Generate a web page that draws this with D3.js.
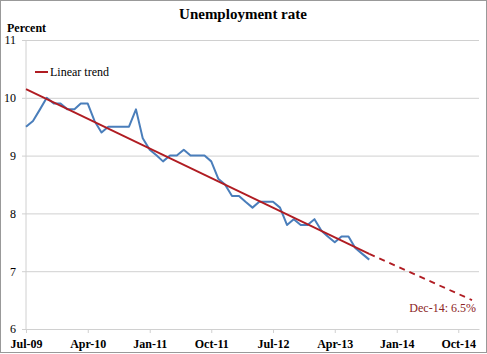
<!DOCTYPE html>
<html>
<head>
<meta charset="utf-8">
<script src="https://cdn.jsdelivr.net/npm/d3@7"></script>
<style>
  body { margin: 0; background: #fff; }
  svg { display: block; }
  svg text { font-family: "Liberation Serif", "Times New Roman", serif; }
</style>
</head>
<body>
<div id="chart"></div>
<script>
// monthly unemployment rate, Jul-09 .. Sep-13
const startMonth = "2009-07";
const rates = [
  9.5, 9.6, 9.8, 10.0, 9.9, 9.9,
  9.8, 9.8, 9.9, 9.9, 9.6, 9.4, 9.5, 9.5, 9.5, 9.5, 9.8, 9.3,
  9.1, 9.0, 8.9, 9.0, 9.0, 9.1, 9.0, 9.0, 9.0, 8.9, 8.6, 8.5,
  8.3, 8.3, 8.2, 8.1, 8.2, 8.2, 8.2, 8.1, 7.8, 7.9, 7.8, 7.8,
  7.9, 7.7, 7.6, 7.5, 7.6, 7.6, 7.4, 7.3, 7.2
];
// linear trend: solid over the data, dashed projection to Dec-14
const trendSolid = [["2009-07", 10.15], ["2013-09", 7.3]];
const trendDashed = [["2013-09", 7.3], ["2014-12", 6.5]];
const xTicks = ["2009-07", "2010-04", "2011-01", "2011-10", "2012-07", "2013-04", "2014-01", "2014-10"];
const yTicks = [6, 7, 8, 9, 10, 11];
const annotation = "Dec-14: 6.5%";

const W = 487, H = 354;
const margin = { top: 40, right: 8, bottom: 25, left: 26 };
const parse = d3.timeParse("%Y-%m");
const blue = "#4a7ebb", red = "#b01c22";
const serif = "Liberation Serif";

const svg = d3.select("#chart").append("svg")
  .attr("width", W).attr("height", H);

// chart area border
svg.append("rect")
  .attr("x", 0.5).attr("y", 0.5)
  .attr("width", W - 1).attr("height", H - 2)
  .attr("fill", "#fff").attr("stroke", "#999");

const x = d3.scaleTime()
  .domain([parse("2009-07"), parse("2015-01")])
  .range([margin.left, W - margin.right]);
const y = d3.scaleLinear()
  .domain([6, 11])
  .range([H - margin.bottom, margin.top]);

// gridlines + y labels
svg.append("g")
  .attr("transform", `translate(${margin.left},0)`)
  .attr("font-family", serif)
  .call(d3.axisLeft(y).tickValues(yTicks).tickFormat(d3.format("d"))
    .tickSize(-(W - margin.left - margin.right)).tickSizeOuter(0).tickPadding(10))
  .call(g => g.select(".domain").remove())
  .call(g => g.selectAll(".tick line").attr("stroke", "#d0d0d0").attr("x1", -4))
  .call(g => g.selectAll(".tick text")
    .attr("font-family", serif).attr("font-size", 12).attr("fill", "#000"));

// y axis line
svg.append("line")
  .attr("x1", margin.left).attr("x2", margin.left)
  .attr("y1", y(11)).attr("y2", y(6))
  .attr("stroke", "#d0d0d0");

// x axis
svg.append("g")
  .attr("transform", `translate(0,${y(6)})`)
  .attr("font-family", serif)
  .call(d3.axisBottom(x).tickValues(xTicks.map(parse)).tickFormat(d3.timeFormat("%b-%y"))
    .tickSize(4).tickSizeOuter(0).tickPadding(6))
  .call(g => g.select(".domain").attr("stroke", "#d0d0d0"))
  .call(g => g.selectAll(".tick line").attr("stroke", "#d0d0d0"))
  .call(g => g.selectAll(".tick text")
    .attr("font-family", serif).attr("font-size", 12)
    .attr("font-weight", "bold").attr("fill", "#000"));

// data series
const series = rates.map((v, i) => [d3.timeMonth.offset(parse(startMonth), i), v]);
const line = d3.line().x(d => x(d[0])).y(d => y(d[1]));

svg.append("path")
  .datum(series)
  .attr("fill", "none").attr("stroke", blue).attr("stroke-width", 2)
  .attr("stroke-linejoin", "round")
  .attr("d", line);

const trendLine = d3.line().x(d => x(parse(d[0]))).y(d => y(d[1]));
svg.append("path")
  .datum(trendSolid)
  .attr("fill", "none").attr("stroke", red).attr("stroke-width", 1.8)
  .attr("d", trendLine);
svg.append("path")
  .datum(trendDashed)
  .attr("fill", "none").attr("stroke", red).attr("stroke-width", 1.8)
  .attr("stroke-dasharray", "6,5")
  .attr("d", trendLine);

// annotation
svg.append("text")
  .attr("x", 476).attr("y", 312)
  .attr("text-anchor", "end")
  .attr("font-size", 12).attr("fill", "#8b2323")
  .text(annotation);

// legend
svg.append("line")
  .attr("x1", 35).attr("x2", 48).attr("y1", 72).attr("y2", 72)
  .attr("stroke", red).attr("stroke-width", 2);
svg.append("text")
  .attr("x", 50).attr("y", 76)
  .attr("font-size", 12)
  .text("Linear trend");

// titles
svg.append("text")
  .attr("x", 243).attr("y", 19)
  .attr("text-anchor", "middle")
  .attr("font-size", 15).attr("font-weight", "bold")
  .text("Unemployment rate");
svg.append("text")
  .attr("x", 7).attr("y", 32)
  .attr("font-size", 12).attr("font-weight", "bold")
  .text("Percent");
</script>
</body>
</html>
